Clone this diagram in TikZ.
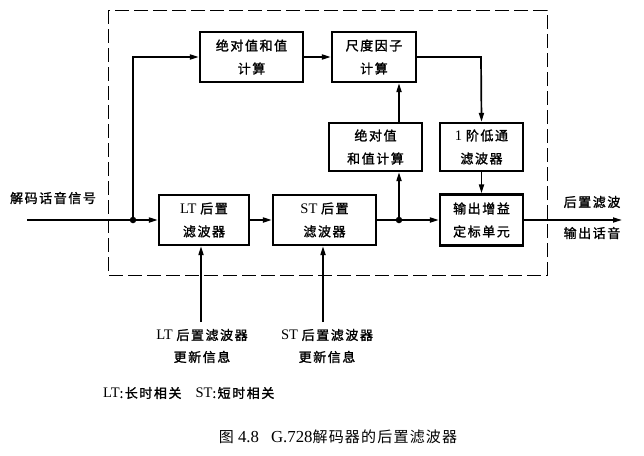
\documentclass[tikz,border=0pt]{standalone}
\usepackage{fontspec}
\setmainfont[Scale=1.12]{Liberation Serif}
\newfontfamily\cjk[LetterSpace=12,FakeBold=1.5]{Noto Sans CJK SC}
\newfontfamily\cjkcap[LetterSpace=8]{Noto Sans CJK SC}
\usetikzlibrary{arrows.meta}
\begin{document}
\begin{tikzpicture}[x=1pt,y=-1pt,
  blk/.style={draw,line width=2.2pt,align=center,inner sep=0pt,
     font=\fontsize{13}{23}\selectfont},
  conn/.style={line width=1.7pt},
  arr/.style={conn,-{Triangle[length=9pt,width=5pt]}},
  lbl/.style={align=center,inner sep=0pt,font=\fontsize{13}{22}\selectfont},
  dot/.style={circle,fill,inner sep=0pt,minimum size=6.5pt}]
\useasboundingbox (0,0) rectangle (644,455);
% dashed frame
\draw[line width=0.9pt,dash pattern=on 14pt off 5pt] (108,10) rectangle (547,275);
% blocks
\node[blk,minimum width=103pt,minimum height=50pt] (abs1) at (251.5,57) {{\cjk 绝对值和值}\\{\cjk 计算}};
\node[blk,minimum width=84pt,minimum height=50pt] (scale) at (374,57) {{\cjk 尺度因子}\\{\cjk 计算}};
\node[blk,minimum width=93pt,minimum height=48pt] (abs2) at (375.5,147) {{\cjk 绝对值}\\{\cjk 和值计算}};
\node[blk,minimum width=83pt,minimum height=48pt] (lpf) at (481.5,147) {1 {\cjk 阶低通}\\{\cjk 滤波器}};
\node[blk,minimum width=83pt,minimum height=51pt] (gain) at (481.5,220) {{\cjk 输出增益}\\{\cjk 定标单元}};
\node[blk,minimum width=90pt,minimum height=50pt] (lt) at (204,220) {LT {\cjk 后置}\\{\cjk 滤波器}};
\node[blk,minimum width=103pt,minimum height=50pt] (st) at (324.5,220) {ST {\cjk 后置}\\{\cjk 滤波器}};
% junctions and free ends
\node[dot] (j1) at (133,220) {};
\node[dot] (j2) at (399,220) {};
\coordinate (in) at (27,220);
\coordinate (out) at (622,220);
\coordinate (c1) at (133,57);
\coordinate (c2) at (481,57);
\coordinate (u1) at (201,322);
\coordinate (u2) at (323,322);
% connectors
\draw[conn] (in) -- (j1);
\draw[arr] (j1) -- (lt.west);
\draw[arr] (j1) -- (c1) -- (abs1.west);
\draw[arr] (abs1.east) -- (scale.west);
\draw[arr] (lt.east) -- (st.west);
\draw[conn] (st.east) -- (j2);
\draw[arr] (j2) -- (gain.west);
\draw[arr] (j2) -- (j2 |- abs2.south);
\draw[arr] (j2 |- abs2.north) -- (j2 |- scale.south);
\draw[arr] (scale.east) -- (c2) -- (lpf.north);
\draw[arr] (lpf.south) -- (gain.north);
\draw[arr] (gain.east) -- (out);
\draw[arr] (u1) -- (u1 |- lt.south);
\draw[arr] (u2) -- (u2 |- st.south);
% labels
\node[lbl] (tin) at (53,198) {\cjk 解码话音信号};
\node[lbl] (tout1) at (592,202) {\cjk 后置滤波};
\node[lbl] (tout2) at (592,233) {\cjk 输出话音};
\node[lbl] (tu1) at (202,346) {LT {\cjk 后置滤波器}\\{\cjk 更新信息}};
\node[lbl] (tu2) at (327,346) {ST {\cjk 后置滤波器}\\{\cjk 更新信息}};
\node[lbl,anchor=west] (leg) at (103,393) {LT{\cjk :长时相关}\hspace{14pt}ST{\cjk :短时相关}};
\node[inner sep=0pt,font=\fontsize{15}{17}\selectfont] (cap) at (338,437) {{\cjkcap 图} 4.8\hspace{12pt}G.728{\cjkcap 解码器的后置滤波器}};
\end{tikzpicture}
\end{document}
